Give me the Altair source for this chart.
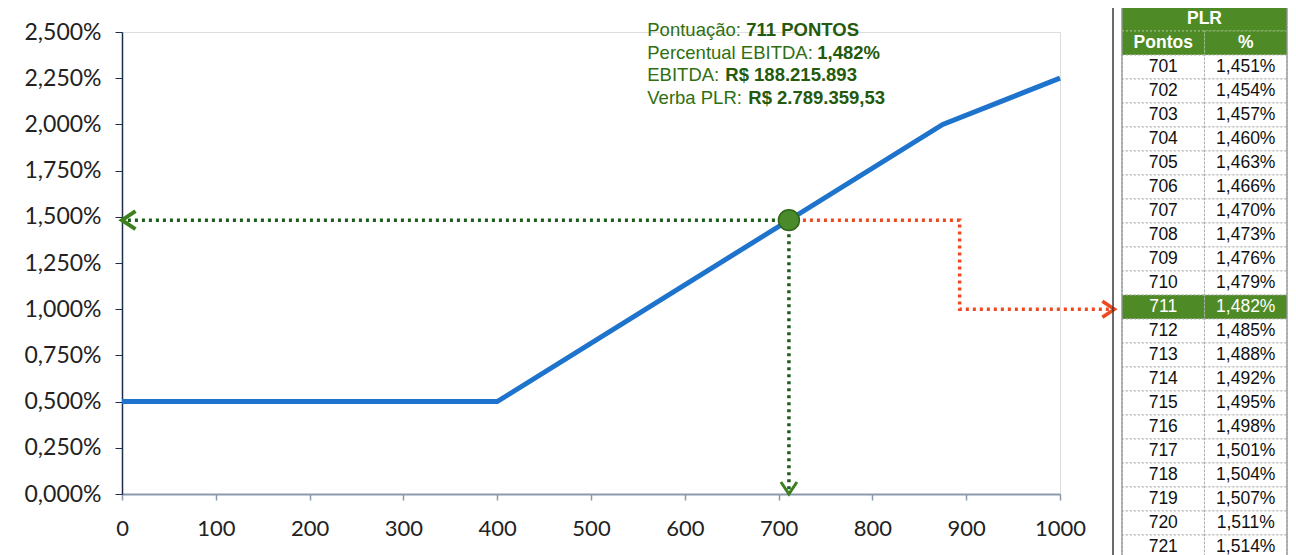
import altair as alt
import pandas as pd

# ---------------- data ----------------
curve_x = [0, 400, 875, 1000]
curve_y = [0.5, 0.5, 2.0, 2.25]

sel_x = 711
sel_y = 1.482

red_x = [711, 893, 893, 1058]
red_y = [1.482, 1.482, 1.0, 1.0]

y_ticks = [0, 0.25, 0.5, 0.75, 1.0, 1.25, 1.5, 1.75, 2.0, 2.25, 2.5]
x_ticks = [0, 100, 200, 300, 400, 500, 600, 700, 800, 900, 1000]

info_regular = ["Pontuação: ", "Percentual EBITDA: ", "EBITDA: ", "Verba PLR: "]
info_bold = ["711 PONTOS", "1,482%", "R$ 188.215.893", "R$ 2.789.359,53"]
info_y = [2.511, 2.388, 2.265, 2.143]
info_x = 560
bold_dx = [99, 170, 78, 101]

table_title = "PLR"
table_headers = ["Pontos", "%"]
table_pontos = [701, 702, 703, 704, 705, 706, 707, 708, 709, 710, 711,
                712, 713, 714, 715, 716, 717, 718, 719, 720, 721]
table_pct = [1.451, 1.454, 1.457, 1.460, 1.463, 1.466, 1.470, 1.473, 1.476, 1.479, 1.482,
             1.485, 1.488, 1.492, 1.495, 1.498, 1.501, 1.504, 1.507, 1.511, 1.514]
highlight = 711

# ---------------- styles ----------------
BLUE = "#1e74cc"
GREEN_DOT = "#1d5c1d"
GREEN_FILL = "#4e8a25"
RED = "#f0481e"
TXT_GREEN = "#2f6f12"
FONT_AX = "Lato"
FONT_TXT = "Liberation Sans"

xs = alt.Scale(domain=[0, 1000], nice=False, zero=False)
ys = alt.Scale(domain=[0, 2.5], nice=False, zero=False)

x_axis = alt.Axis(values=x_ticks, format="d", labelFont=FONT_AX, labelFontSize=22,
                  labelColor="#222222", tickSize=6, tickColor="#8a99ad",
                  domainColor="#8a99ad", domainWidth=2, tickWidth=1.5,
                  labelPadding=18, labelFlush=False, grid=False, title=None)
y_axis = alt.Axis(values=y_ticks,
                  labelExpr="replace(format(datum.value, '.3f'), '.', ',') + '%'",
                  labelFont=FONT_AX, labelFontSize=23, labelColor="#222222",
                  tickSize=7, tickColor="#1f2d4d", domainColor="#1f2d4d",
                  domainWidth=1.5, labelPadding=14, labelFlush=False, grid=False, title=None)


def X(field):
    return alt.X(field, type="quantitative", scale=xs, axis=x_axis)


def Y(field):
    return alt.Y(field, type="quantitative", scale=ys, axis=y_axis)


curve_df = pd.DataFrame({"x": curve_x, "y": curve_y})
sel_df = pd.DataFrame({"x": [sel_x], "y": [sel_y], "x0": [0], "y0": [0]})
red_df = pd.DataFrame({"x": red_x, "y": red_y, "o": list(range(len(red_x)))})

line = alt.Chart(curve_df).mark_line(color=BLUE, strokeWidth=5).encode(x=X("x"), y=Y("y"))

green_h = alt.Chart(sel_df).mark_rule(color=GREEN_DOT, strokeWidth=3.5, strokeDash=[3, 4]).encode(
    x=X("x"), x2="x0", y=Y("y"))
green_v = alt.Chart(sel_df).mark_rule(color=GREEN_DOT, strokeWidth=3.5, strokeDash=[3, 4]).encode(
    x=X("x"), y=Y("y"), y2="y0")
red = alt.Chart(red_df).mark_line(color=RED, strokeWidth=3.5, strokeDash=[3, 4]).encode(
    x=X("x"), y=Y("y"), order="o:Q")

arrow_left = alt.Chart(sel_df).mark_point(shape="M1.5,-1L0,0L1.5,1", filled=False, size=324,
                                          strokeWidth=4, color="#3d7f1f", opacity=1).encode(
    x=X("x0"), y=Y("y"))
arrow_down = alt.Chart(sel_df).mark_point(shape="M-1,-1.5L0,0L1,-1.5", filled=False, size=256,
                                          strokeWidth=3, color="#3d7f1f", opacity=1).encode(
    x=X("x"), y=Y("y0"))
arrow_end = pd.DataFrame({"x": [red_x[-1]], "y": [red_y[-1]]})
arrow_right = alt.Chart(arrow_end).mark_point(shape="M-1.5,-1L0,0L-1.5,1", filled=False, size=256,
                                             strokeWidth=3.5, color=RED, opacity=1).encode(
    x=X("x"), y=Y("y"))

dot = alt.Chart(sel_df).mark_point(filled=True, size=440, color="#4a8a2a", stroke="#2f661a",
                                   strokeWidth=1.5, opacity=1).encode(x=X("x"), y=Y("y"))

text_layers = []
for reg, bold, yy, dx in zip(info_regular, info_bold, info_y, bold_dx):
    tdf = pd.DataFrame({"x": [info_x], "y": [yy], "reg": [reg], "bold": [bold]})
    text_layers.append(alt.Chart(tdf).mark_text(align="left", baseline="middle", font=FONT_TXT,
                                                fontSize=18.5, color=TXT_GREEN).encode(
        x=X("x"), y=Y("y"), text="reg:N"))
    text_layers.append(alt.Chart(tdf).mark_text(align="left", baseline="middle", font=FONT_TXT,
                                                fontSize=18.5, fontWeight="bold", color="#245a0c",
                                                dx=dx).encode(
        x=X("x"), y=Y("y"), text="bold:N"))

main = alt.layer(line, green_h, green_v, red, arrow_left, arrow_down, arrow_right, dot, *text_layers)

# ---------------- table ----------------
rows = []
rows.append({"x0": 0, "x1": 2, "r0": 0, "r1": 1, "label": table_title, "fill": GREEN_FILL,
             "tc": "white", "bold": True, "stroke": "#9fbf88"})
for i, h in enumerate(table_headers):
    rows.append({"x0": i, "x1": i + 1, "r0": 1, "r1": 2, "label": h, "fill": GREEN_FILL,
                 "tc": "white", "bold": True, "stroke": "#9fbf88"})
for k, (p, v) in enumerate(zip(table_pontos, table_pct)):
    hl = p == highlight
    fill = GREEN_FILL if hl else "white"
    tc = "white" if hl else "#111111"
    r = k + 2
    pct_label = f"{v:.3f}".replace(".", ",") + "%"
    rows.append({"x0": 0, "x1": 1, "r0": r, "r1": r + 1, "label": str(p), "fill": fill,
                 "tc": tc, "bold": False, "stroke": "#b0b0b0"})
    rows.append({"x0": 1, "x1": 2, "r0": r, "r1": r + 1, "label": pct_label, "fill": fill,
                 "tc": tc, "bold": False, "stroke": "#b0b0b0"})
tab_df = pd.DataFrame(rows)
tab_df["xc"] = (tab_df["x0"] + tab_df["x1"]) / 2
tab_df["rc"] = (tab_df["r0"] + tab_df["r1"]) / 2

n_rows = 2 + len(table_pontos)
tx = alt.Scale(domain=[0, 2], range=[1000, 1165], nice=False, zero=False)
ty = alt.Scale(domain=[0, n_rows], range=[-25, -25 + 24 * n_rows], nice=False, zero=False)

tab_base = alt.Chart(tab_df)
cells = tab_base.mark_rect(strokeWidth=1, strokeDash=[2, 2]).encode(
    x=alt.X("x0:Q", scale=tx, axis=None), x2="x1",
    y=alt.Y("r0:Q", scale=ty, axis=None), y2="r1",
    fill=alt.Fill("fill:N", scale=None), stroke=alt.Stroke("stroke:N", scale=None))
tab_text_bold = tab_base.transform_filter("datum.bold").mark_text(
    font=FONT_TXT, fontSize=17.5, fontWeight="bold", baseline="middle").encode(
    x=alt.X("xc:Q", scale=tx, axis=None), y=alt.Y("rc:Q", scale=ty, axis=None),
    text="label:N", color=alt.Color("tc:N", scale=None))
tab_text = tab_base.transform_filter("!datum.bold").mark_text(
    font=FONT_TXT, fontSize=17.5, baseline="middle").encode(
    x=alt.X("xc:Q", scale=tx, axis=None), y=alt.Y("rc:Q", scale=ty, axis=None),
    text="label:N", color=alt.Color("tc:N", scale=None))
border_df = pd.DataFrame({"x0": [0], "x1": [2], "r0": [0], "r1": [n_rows]})
tab_border = alt.Chart(border_df).mark_rect(fill=None, stroke="#8a8a8a", strokeWidth=1.2).encode(
    x=alt.X("x0:Q", scale=tx, axis=None), x2="x1",
    y=alt.Y("r0:Q", scale=ty, axis=None), y2="r1")

table = alt.layer(cells, tab_text_bold, tab_text, tab_border)

frame = alt.Chart(pd.DataFrame({"a": [0]})).mark_rule(color="#3a3a3a", strokeWidth=1.5).encode(
    x=alt.value(991), y=alt.value(-24), y2=alt.value(523))

chart = alt.layer(main, table, frame).resolve_scale(x="independent", y="independent").properties(
    width=938, height=462,
    autosize=alt.AutoSizeParams(type="none"),
    padding={"left": 114, "top": 24, "right": 228, "bottom": 61},
).configure_view(stroke=None).configure(background="white")

chart.save("out.html", embed_options={"renderer": "svg", "actions": False})
